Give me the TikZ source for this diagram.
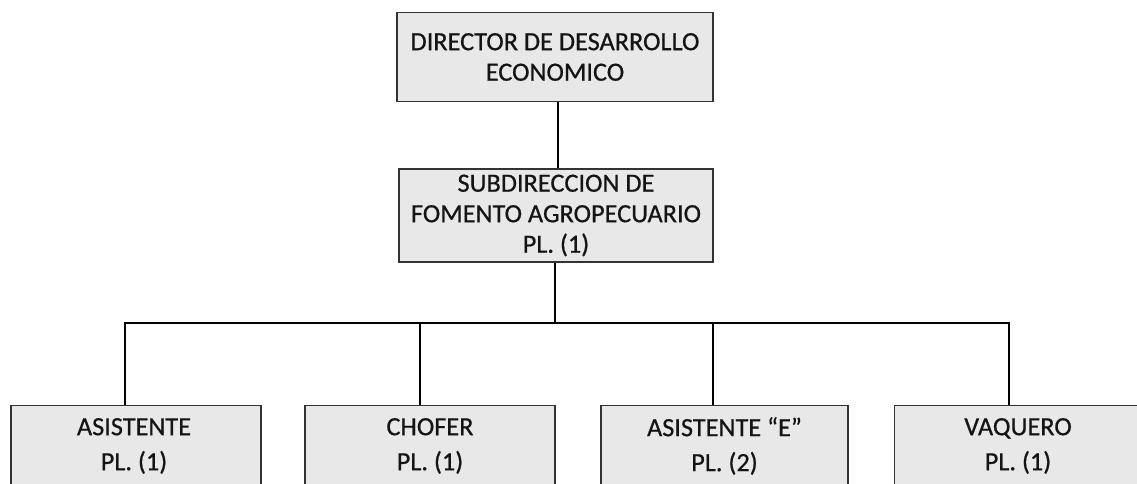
\documentclass[tikz,border=0pt]{standalone}
\usepackage{fontspec}
\setmainfont{Carlito}
\newfontfamily\scanfont{Carlito}[FakeBold=0.6]
\begin{document}
\begin{tikzpicture}[x=1pt,y=-1pt,
  box/.style={draw=black!80, line width=1.3pt, fill=black!9, align=center,
    inner sep=0pt, font=\scanfont\fontsize{26.3}{30.5}\selectfont, text=black!92},
  lbl/.style={align=center, inner sep=0pt, font=\scanfont\fontsize{26.3}{35}\selectfont, text=black!92},
  conn/.style={draw=black, line width=2.4pt}]
\useasboundingbox (0,0) rectangle (1137,484);
\clip (0,0) rectangle (1137,484);
\fill[white] (0,0) rectangle (1137,484);
\node[box, minimum width=316pt, minimum height=89pt] (dir) at (555,57)
  {DIRECTOR DE DESARROLLO\\ECONOMICO};
\node[box, minimum width=314pt, minimum height=93pt] (sub) at (556,215.5)
  {SUBDIRECCION DE\\FOMENTO AGROPECUARIO\\PL. (1)};
\node[box, minimum width=250pt, minimum height=100pt, anchor=north] (asis) at (136,405) {};
\node[box, minimum width=250pt, minimum height=100pt, anchor=north] (chof) at (430,405) {};
\node[box, minimum width=247pt, minimum height=100pt, anchor=north] (asie) at (724.5,405) {};
\node[box, minimum width=247pt, minimum height=100pt, anchor=north] (vaq) at (1018,405) {};
\node[lbl] (tasis) at (134,446) {ASISTENTE\\PL. (1)};
\node[lbl] (tchof) at (430,446) {CHOFER\\PL. (1)};
\node[lbl] (tasie) at (724.5,446) {ASISTENTE “E”\\PL. (2)};
\node[lbl] (tvaq) at (1018,446) {VAQUERO\\PL. (1)};
\coordinate (b1) at (125,323);
\coordinate (b2) at (420,323);
\coordinate (bs) at (555,323);
\coordinate (b3) at (713,323);
\coordinate (b4) at (1009,323);
\draw[conn] (dir.south -| 558,0) -- (sub.north -| 558,0);
\draw[conn] (sub.south -| bs) -- (bs);
\draw[conn] (b1 |- asis.north) -- (b1) -- (b4) -- (b4 |- vaq.north);
\draw[conn] (b2) -- (b2 |- chof.north);
\draw[conn] (b3) -- (b3 |- asie.north);
\end{tikzpicture}
\end{document}
